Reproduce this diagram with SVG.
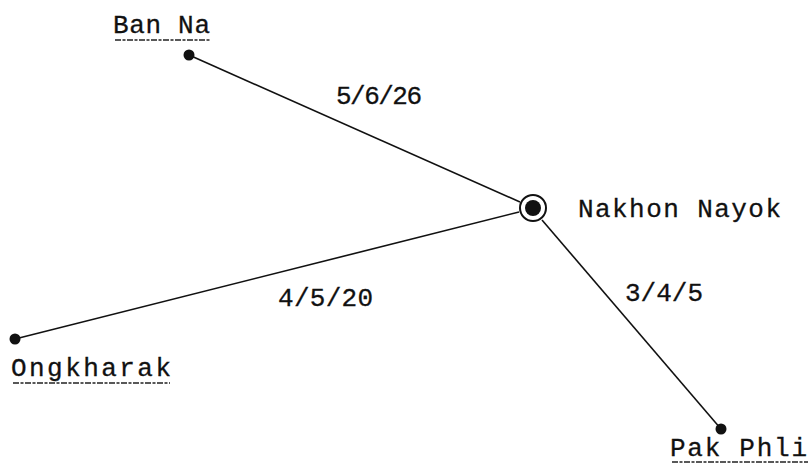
<svg xmlns="http://www.w3.org/2000/svg" width="808" height="465" viewBox="0 0 808 465">
<style>
.lbl{font-family:"Liberation Mono","Courier New",monospace;font-size:26px;fill:#111;stroke:#111;stroke-width:0.3}
.ul{stroke:#222;stroke-width:1.6;stroke-dasharray:6 1.5 3 1.5}
.edge{stroke:#111;stroke-width:1.6;fill:none}
.dot{fill:#111}
</style>
<rect width="808" height="465" fill="#fff"/>
<g id="connectors">
<line class="edge" x1="189" y1="55" x2="520" y2="202"/>
<line class="edge" x1="15" y1="339" x2="519" y2="212"/>
<line class="edge" x1="542" y1="220" x2="721" y2="429"/>
<text class="lbl" x="336" y="104" textLength="86" lengthAdjust="spacing">5/6/26</text>
<text class="lbl" x="278" y="306" textLength="95" lengthAdjust="spacing">4/5/20</text>
<text class="lbl" x="625" y="301" textLength="78" lengthAdjust="spacing">3/4/5</text>
</g>
<g id="nakhon-nayok">
<circle cx="533" cy="208" r="13" fill="#fff" stroke="#111" stroke-width="2"/>
<circle class="dot" cx="533" cy="208" r="8"/>
<text class="lbl" x="578" y="217" textLength="203" lengthAdjust="spacing">Nakhon Nayok</text>
</g>
<g id="ban-na">
<circle class="dot" cx="189" cy="55" r="5.5"/>
<text class="lbl" x="113" y="33" textLength="97" lengthAdjust="spacing">Ban Na</text>
<line class="ul" x1="115" y1="40" x2="210" y2="40"/>
</g>
<g id="ongkharak">
<circle class="dot" cx="15" cy="339" r="5.5"/>
<text class="lbl" x="11" y="376" textLength="160" lengthAdjust="spacing">Ongkharak</text>
<line class="ul" x1="13" y1="383" x2="170" y2="383"/>
</g>
<g id="pak-phli">
<circle class="dot" cx="721" cy="429" r="5.5"/>
<text class="lbl" x="670" y="456" textLength="137" lengthAdjust="spacing">Pak Phli</text>
<line class="ul" x1="672" y1="462" x2="808" y2="462"/>
</g>
</svg>
